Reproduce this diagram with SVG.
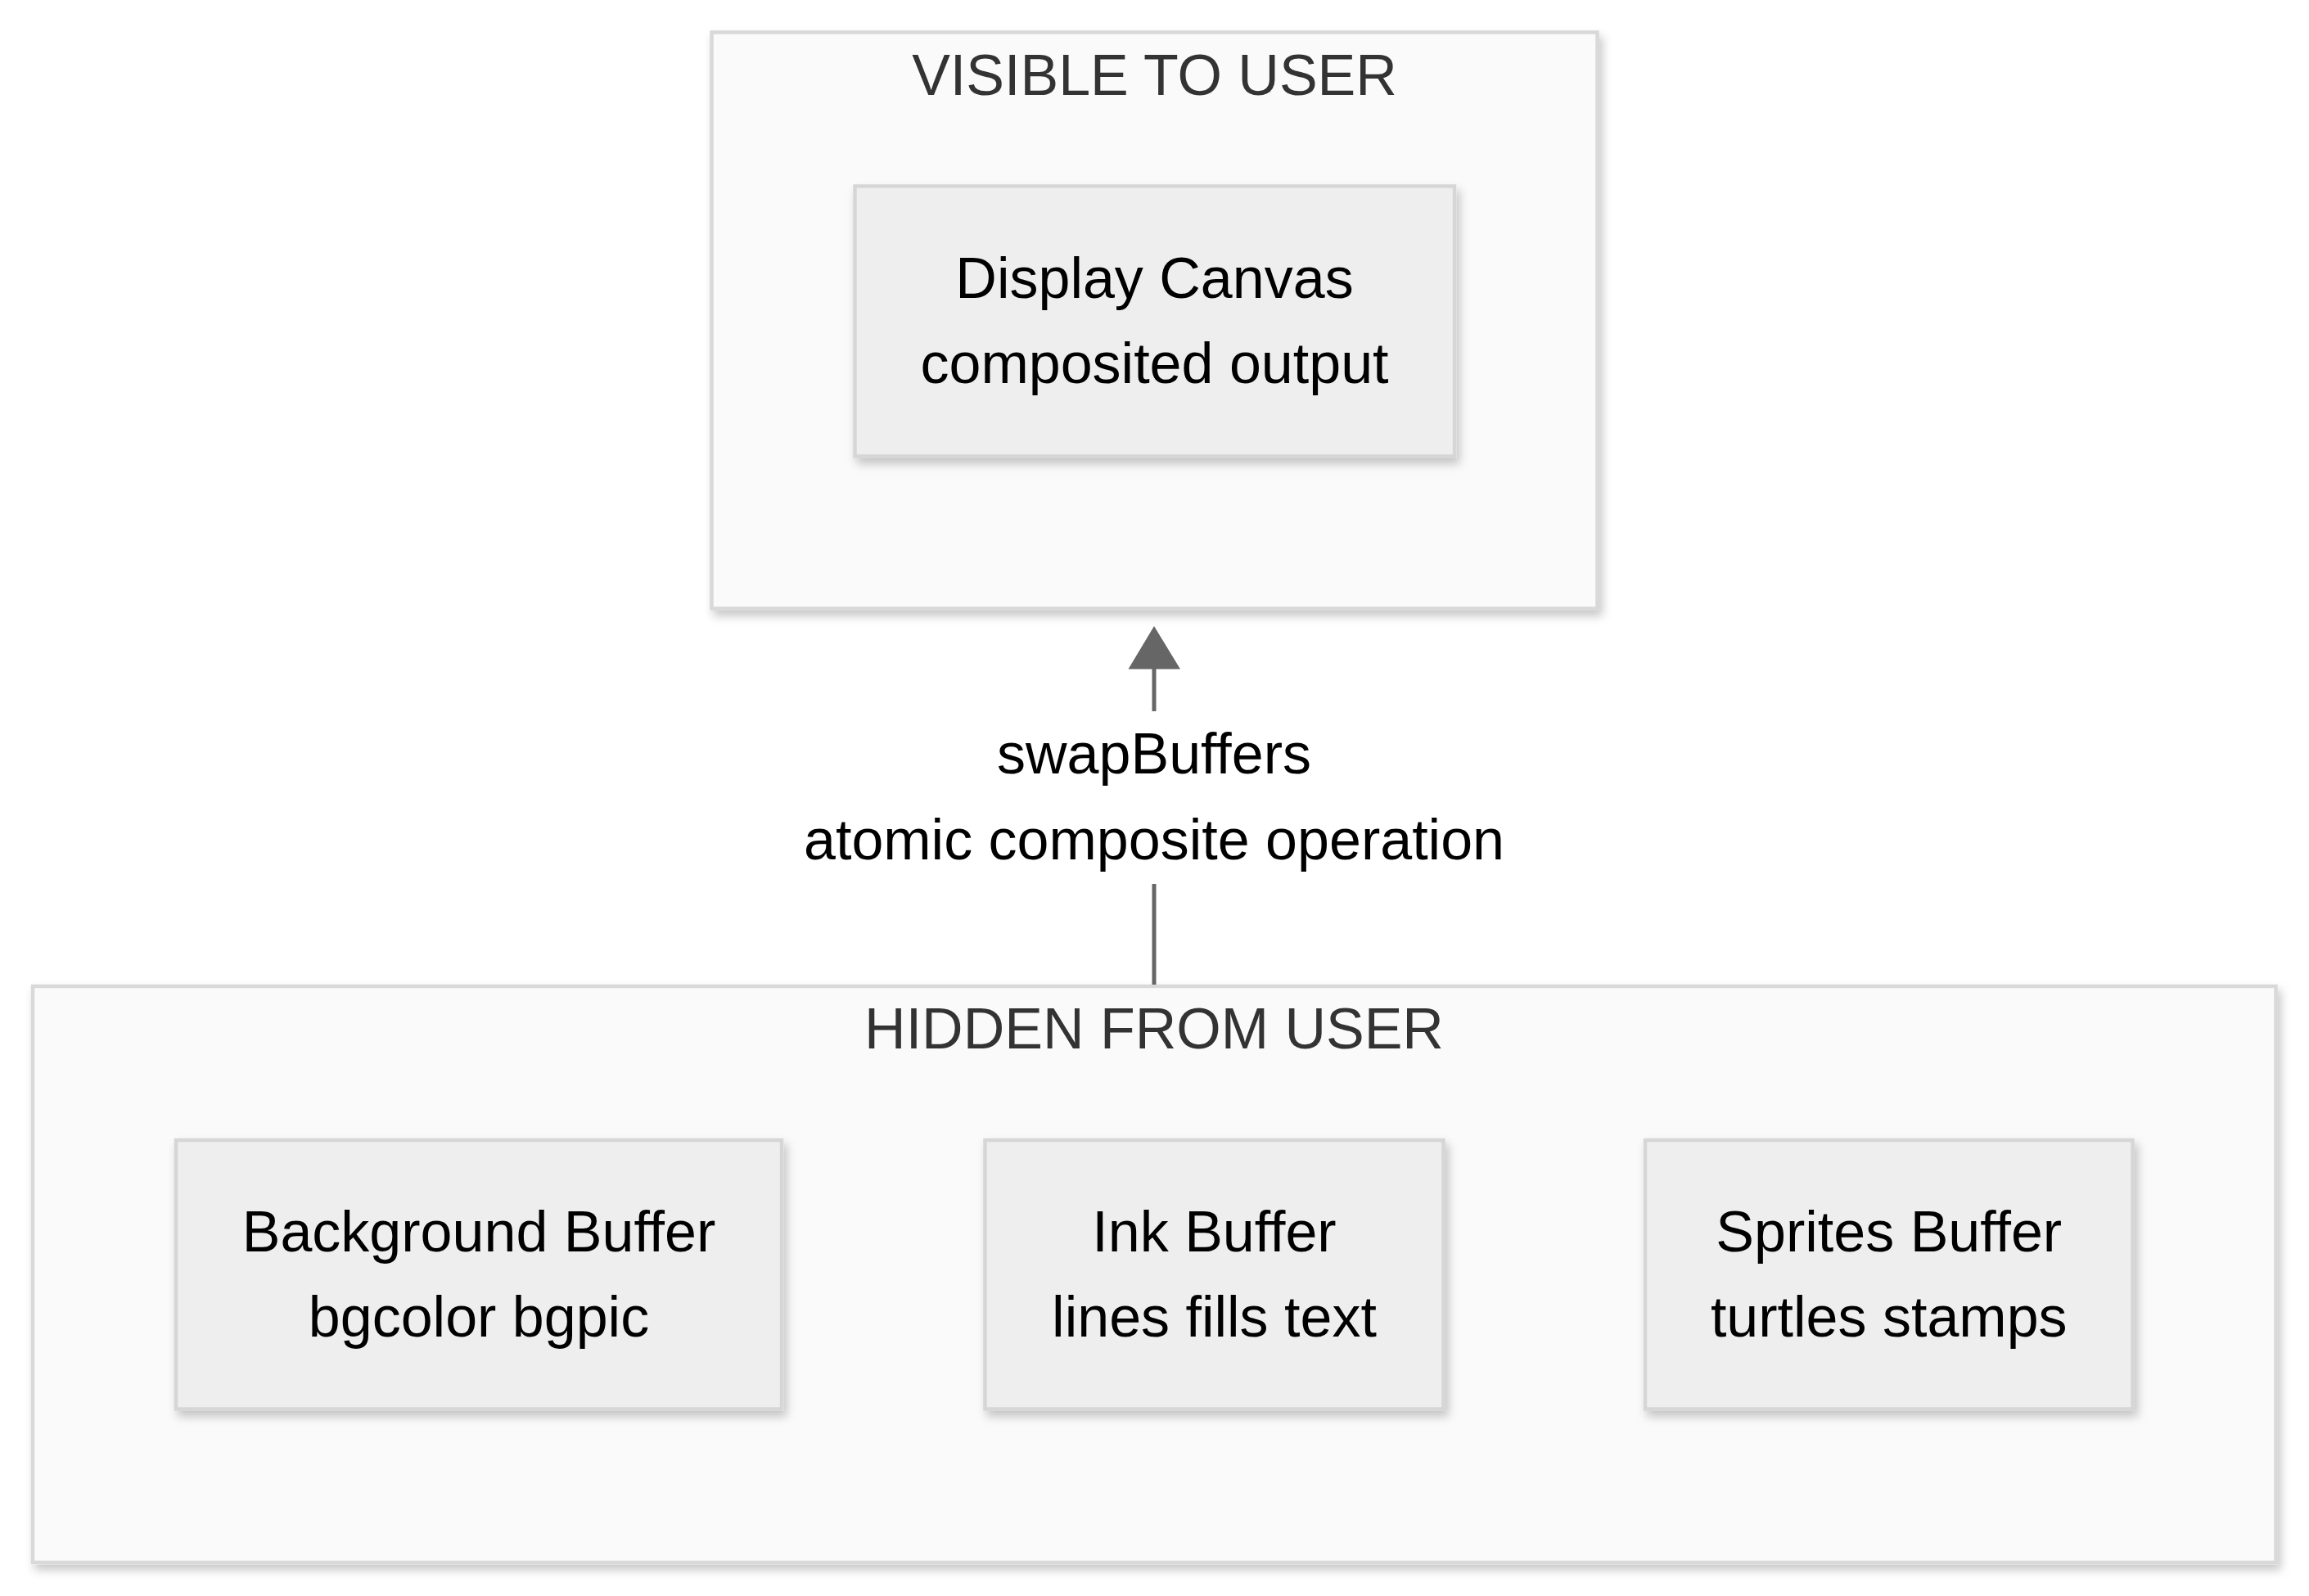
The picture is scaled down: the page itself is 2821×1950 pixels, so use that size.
<svg xmlns="http://www.w3.org/2000/svg" width="2821" height="1950" viewBox="0 0 2821 1950">
  <style>
    .cluster { fill: #fafafa; stroke: #d9d9d9; stroke-width: 4.5; }
    .node { fill: #eeeeee; stroke: #d6d6d6; stroke-width: 4.5; }
    .ctitle { font-family: "Liberation Sans", Arial, sans-serif; font-size: 70px; fill: #333333; text-anchor: middle; }
    .ntext { font-family: "Liberation Sans", Arial, sans-serif; font-size: 70px; fill: #000000; text-anchor: middle; }
    .edge { stroke: #666666; stroke-width: 5; fill: none; }
  </style>
  <defs>
    <filter id="shadow" x="-10%" y="-10%" width="130%" height="130%">
      <feDropShadow dx="4" dy="7" stdDeviation="6" flood-color="#000000" flood-opacity="0.22"/>
    </filter>
    <marker id="arrow" markerUnits="userSpaceOnUse" markerWidth="70" markerHeight="60" viewBox="0 0 64 52" refX="0" refY="26" orient="auto">
      <path d="M0,0 L52,26 L0,52 Z" fill="#666666" transform="translate(0,0)"/>
    </marker>
  </defs>
  <rect width="2821" height="1950" fill="#ffffff"/>

  <g id="cluster-visible">
    <rect class="cluster" x="869.5" y="39.5" width="1082" height="704" filter="url(#shadow)"/>
    <text class="ctitle" x="1410.5" y="115.5">VISIBLE TO USER</text>
  </g>

  <g id="cluster-hidden">
    <rect class="cluster" x="40" y="1205" width="2740.5" height="704" filter="url(#shadow)"/>
    <text class="ctitle" x="1410" y="1281">HIDDEN FROM USER</text>
  </g>

  <g id="node-display">
    <rect class="node" x="1044.5" y="227.5" width="732.5" height="330" filter="url(#shadow)"/>
    <text class="ntext" x="1410.5" y="364">Display Canvas</text>
    <text class="ntext" x="1410.5" y="468">composited output</text>
  </g>

  <g id="node-background">
    <rect class="node" x="215" y="1393" width="740" height="328.5" filter="url(#shadow)"/>
    <text class="ntext" x="585" y="1529">Background Buffer</text>
    <text class="ntext" x="585" y="1633">bgcolor bgpic</text>
  </g>

  <g id="node-ink">
    <rect class="node" x="1203.5" y="1393" width="560" height="328.5" filter="url(#shadow)"/>
    <text class="ntext" x="1483.5" y="1529">Ink Buffer</text>
    <text class="ntext" x="1483.5" y="1633">lines fills text</text>
  </g>

  <g id="node-sprites">
    <rect class="node" x="2010" y="1393" width="595.5" height="328.5" filter="url(#shadow)"/>
    <text class="ntext" x="2307.75" y="1529">Sprites Buffer</text>
    <text class="ntext" x="2307.75" y="1633">turtles stamps</text>
  </g>

  <g id="connectors">
    <line class="edge" x1="1410" y1="1203" x2="1410" y2="1080"/>
    <line class="edge" x1="1410" y1="869" x2="1410" y2="815"/>
    <polygon points="1410,765 1442,817.5 1378.5,817.5" fill="#666666"/>
    <text class="ntext" x="1410" y="945">swapBuffers</text>
    <text class="ntext" x="1410" y="1050">atomic composite operation</text>
  </g>
</svg>
